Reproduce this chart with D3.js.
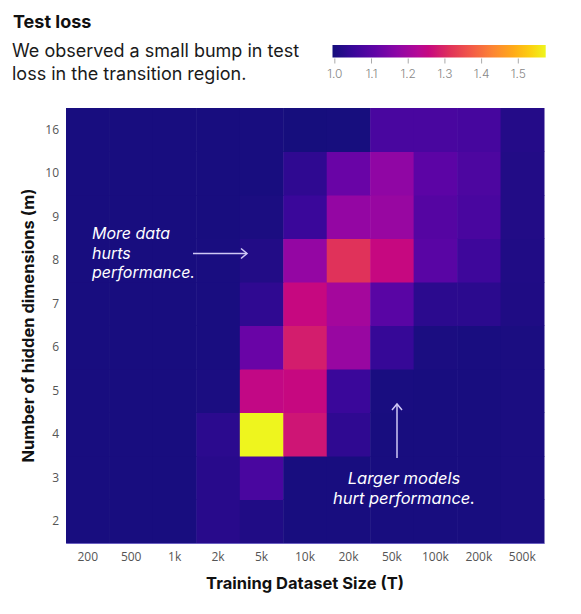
<!DOCTYPE html>
<html>
<head>
<meta charset="utf-8">
<script src="https://cdn.jsdelivr.net/npm/d3@7"></script>
<style>
  body { margin: 0; background: #fff; }
  svg { display: block; font-family: Inter, "Open Sans", sans-serif; }
</style>
</head>
<body>
<div id="chart"></div>
<script>
const width = 581;
const height = 614;

// Data ==============================================================
const datasetSizes = ['200', '500', '1k', '2k', '5k', '10k', '20k', '50k', '100k', '200k', '500k'];
const hiddenDims = ['2', '3', '4', '5', '6', '7', '8', '9', '10', '16'];

// test loss, one row per hidden dimension (same order as hiddenDims), columns follow datasetSizes
const lossM2 = [1.0, 1.0, 1.0, 1.025, 1.012, 1.0, 1.0, 1.0, 1.0, 1.0, 1.004];
const lossM3 = [1.0, 1.0, 1.0, 1.025, 1.076, 1.0, 1.0, 1.0, 1.0, 1.0, 1.004];
const lossM4 = [1.0, 1.0, 1.0, 1.030, 1.576, 1.274, 1.036, 1.0, 1.0, 1.0, 1.004];
const lossM5 = [1.0, 1.0, 1.0, 1.004, 1.250, 1.256, 1.053, 1.002, 1.0, 1.0, 1.004];
const lossM6 = [1.0, 1.0, 1.0, 1.002, 1.123, 1.285, 1.187, 1.047, 1.004, 1.002, 1.004];
const lossM7 = [1.0, 1.0, 1.0, 1.002, 1.036, 1.256, 1.204, 1.100, 1.030, 1.030, 1.010];
const lossM8 = [1.0, 1.0, 1.0, 1.002, 1.015, 1.181, 1.315, 1.256, 1.100, 1.059, 1.012];
const lossM9 = [1.0, 1.0, 1.0, 1.0, 1.004, 1.053, 1.181, 1.187, 1.094, 1.076, 1.015];
const lossM10 = [1.0, 1.0, 1.0, 1.0, 1.0, 1.036, 1.123, 1.175, 1.105, 1.082, 1.015];
const lossM16 = [1.0, 1.0, 1.0, 1.0, 1.0, 0.997, 0.998, 1.076, 1.076, 1.072, 1.018];
const lossRows = [lossM2, lossM3, lossM4, lossM5, lossM6, lossM7, lossM8, lossM9, lossM10, lossM16];

const colorTicks = [1.0, 1.1, 1.2, 1.3, 1.4, 1.5];
const colorDomain = [0.995, 1.576];
// ===================================================================

const cells = [];
lossRows.forEach((row, i) => {
  row.forEach((v, j) => {
    cells.push({ m: hiddenDims[i], t: datasetSizes[j], value: v });
  });
});

// plasma-like ramp, as saturated as in the original picture
const rampStops = [0, 0.1, 0.2, 0.3, 0.4, 0.45, 0.55, 0.65, 0.75, 0.85, 0.93, 1];
const rampColors = ['#150e7c', '#3a079a', '#6004a6', '#8c06a6', '#b40896', '#c60880',
  '#e0325a', '#f25a48', '#fc8434', '#ffab18', '#fcd010', '#eef51e'];
const ramp = d3.scaleLinear().domain(rampStops).range(rampColors).interpolate(d3.interpolateRgb).clamp(true);
const color = d3.scaleSequential(ramp).domain(colorDomain);

const svg = d3.select('#chart').append('svg').attr('width', width).attr('height', height);

// Title & subtitle
svg.append('text')
  .attr('x', 13).attr('y', 28)
  .attr('font-size', 18).attr('font-weight', 700).attr('fill', '#111')
  .text('Test loss');

const sub = svg.append('text')
  .attr('x', 12).attr('font-size', 18).attr('fill', '#1a1a1a');
sub.append('tspan').attr('x', 12).attr('y', 57).text('We observed a small bump in test');
sub.append('tspan').attr('x', 12).attr('y', 80).text('loss in the transition region.');

// Colorbar ==========================================================
const cbX0 = 332.5, cbX1 = 545.7, cbY = 45, cbH = 12.5;
const grad = svg.append('defs').append('linearGradient').attr('id', 'cbGrad');
d3.range(0, 1.0001, 0.025).forEach((p) => {
  grad.append('stop')
    .attr('offset', p * 100 + '%')
    .attr('stop-color', color(colorDomain[0] + p * (colorDomain[1] - colorDomain[0])));
});
svg.append('rect')
  .attr('x', cbX0).attr('y', cbY)
  .attr('width', cbX1 - cbX0).attr('height', cbH)
  .attr('fill', 'url(#cbGrad)');

const cbScale = d3.scaleLinear().domain(colorDomain).range([cbX0, cbX1]);
const cbAxis = svg.append('g')
  .attr('transform', `translate(0, ${cbY + cbH + 1})`)
  .call(d3.axisBottom(cbScale).tickValues(colorTicks).tickFormat(d3.format('.1f')).tickSize(5).tickPadding(6));
cbAxis.select('.domain').remove();
cbAxis.selectAll('line').attr('stroke', '#aaa');
cbAxis.selectAll('text')
  .attr('fill', '#888').attr('font-size', 12).attr('font-weight', 300)
  .attr('font-family', 'Inter, sans-serif');

// Heatmap ===========================================================
const margin = { top: 108, left: 66 };
const plotW = 478, plotH = 435;

const xScale = d3.scaleBand().domain(datasetSizes).range([margin.left, margin.left + plotW]);
const yScale = d3.scaleBand().domain(hiddenDims).range([margin.top + plotH, margin.top]);

svg.append('g').selectAll('rect')
  .data(cells)
  .join('rect')
  .attr('x', (d) => xScale(d.t))
  .attr('y', (d) => yScale(d.m))
  .attr('width', xScale.bandwidth() + 0.5)
  .attr('height', yScale.bandwidth() + 0.5)
  .attr('fill', (d) => color(d.value));

// Axes
const xAxis = svg.append('g')
  .attr('transform', `translate(0, ${margin.top + plotH})`)
  .call(d3.axisBottom(xScale).tickSize(0).tickPadding(9));
xAxis.select('.domain').attr('stroke', '#6a5fc0').attr('stroke-width', 1);
xAxis.selectAll('text')
  .attr('font-family', '"Open Sans", sans-serif').attr('font-size', 12).attr('fill', '#555');

const yAxis = svg.append('g')
  .attr('transform', `translate(${margin.left}, 0)`)
  .call(d3.axisLeft(yScale).tickSize(0).tickPadding(7));
yAxis.select('.domain').remove();
yAxis.selectAll('text')
  .attr('font-family', '"Open Sans", sans-serif').attr('font-size', 12).attr('fill', '#555');

// Axis titles
svg.append('text')
  .attr('x', margin.left + plotW / 2).attr('y', 589)
  .attr('text-anchor', 'middle')
  .attr('font-size', 16.5).attr('font-weight', 700).attr('fill', '#111')
  .text('Training Dataset Size (T)');

svg.append('text')
  .attr('transform', `translate(34, ${margin.top + plotH / 2}) rotate(-90)`)
  .attr('text-anchor', 'middle')
  .attr('font-size', 16.5).attr('font-weight', 700).attr('fill', '#111')
  .text('Number of hidden dimensions (m)');

// Annotations =======================================================
const arrowColor = '#cfc8f5';
const note1 = svg.append('text')
  .attr('font-size', 16).attr('font-style', 'italic').attr('fill', '#fff');
['More data', 'hurts', 'performance.'].forEach((s, i) => {
  note1.append('tspan').attr('x', 92).attr('y', 239 + i * 19.5).text(s);
});

const note2 = svg.append('text')
  .attr('font-size', 16.5).attr('font-style', 'italic').attr('fill', '#fff')
  .attr('text-anchor', 'middle');
['Larger models', 'hurt performance.'].forEach((s, i) => {
  note2.append('tspan').attr('x', 404).attr('y', 484 + i * 19.5).text(s);
});

// horizontal arrow
svg.append('line')
  .attr('x1', 193).attr('y1', 253.5).attr('x2', 247).attr('y2', 253.5)
  .attr('stroke', arrowColor).attr('stroke-width', 1.5);
svg.append('path')
  .attr('d', 'M241,248.5 L247,253.5 L241,258.5')
  .attr('fill', 'none').attr('stroke', arrowColor).attr('stroke-width', 1.5);

// vertical arrow
svg.append('line')
  .attr('x1', 397).attr('y1', 404).attr('x2', 397).attr('y2', 458)
  .attr('stroke', arrowColor).attr('stroke-width', 1.5);
svg.append('path')
  .attr('d', 'M392,410 L397,404 L402,410')
  .attr('fill', 'none').attr('stroke', arrowColor).attr('stroke-width', 1.5);
</script>
</body>
</html>
